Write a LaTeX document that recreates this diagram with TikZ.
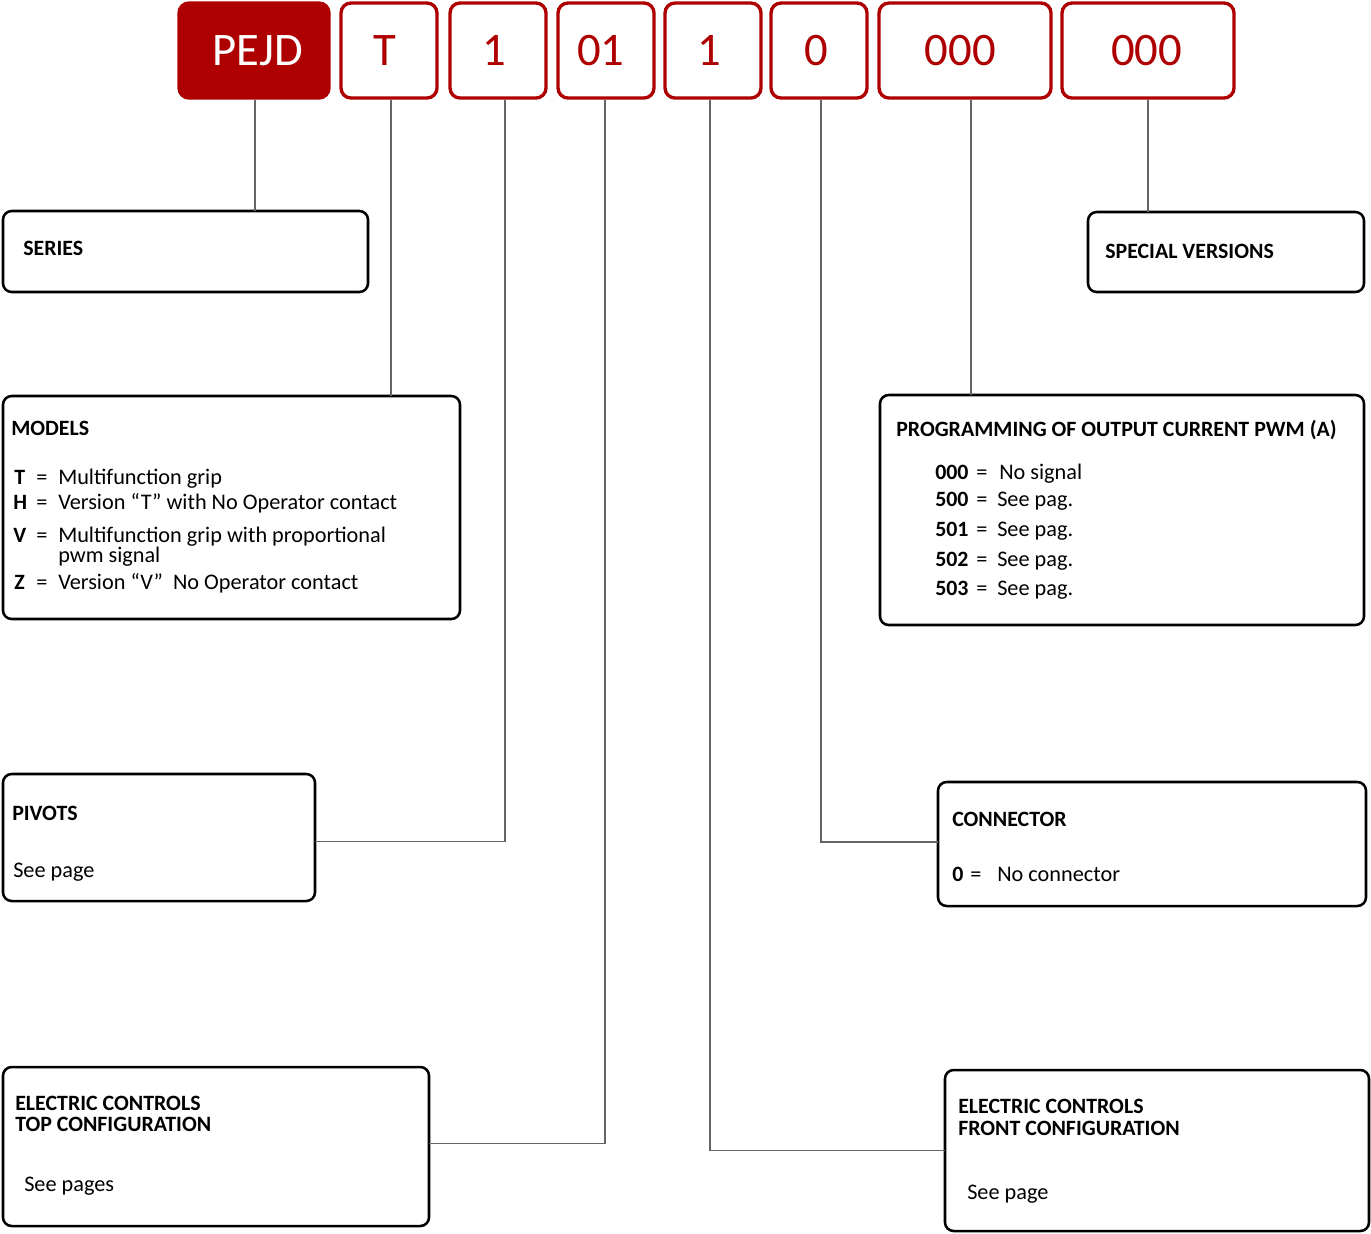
\documentclass[tikz,border=0pt]{standalone}
\usepackage{fontspec}
\setmainfont{Carlito}
\usetikzlibrary{fit}
\definecolor{pred}{RGB}{174,0,0}
\definecolor{lgray}{RGB}{100,100,100}
\begin{document}
\begin{tikzpicture}[x=0.75pt,y=-0.75pt,
  codebox/.style={draw=pred, line width=2.5pt, rounded corners=7.5pt, inner sep=0pt, outer sep=0pt},
  codefill/.style={codebox, fill=pred},
  codetxt/.style={inner sep=0pt, text=pred, font=\fontsize{35}{40}\selectfont},
  codetxtw/.style={codetxt, text=white},
  infobox/.style={draw=black, line width=1.9pt, rounded corners=6.5pt, inner sep=0pt, outer sep=0pt},
  conn/.style={draw=lgray, line width=0.9pt, shorten <=1.5pt},
  hd/.style={anchor=base west, inner sep=0pt, font=\fontsize{16.4}{19}\selectfont\bfseries},
  tx/.style={anchor=base west, inner sep=0pt, font=\fontsize{16.7}{19}\selectfont},
  bk/.style={anchor=base west, inner sep=0pt, font=\fontsize{16.4}{19}\selectfont\bfseries},
]
\useasboundingbox (0,0) rectangle (1371,1233);

% code boxes
\node[codefill, fit={(179,3) (329,98)}] (cP) {};
\node[codebox, fit={(341,3) (437,98)}] (cT) {};
\node[codebox, fit={(450,3) (546,98)}] (c1) {};
\node[codebox, fit={(558,3) (654,98)}] (c01) {};
\node[codebox, fit={(665,3) (761,98)}] (c1b) {};
\node[codebox, fit={(771,3) (867,98)}] (c0) {};
\node[codebox, fit={(879,3) (1051,98)}] (c000) {};
\node[codebox, fit={(1062,3) (1234,98)}] (c000b) {};

\node[codetxtw] (tP) at ([xshift=3pt]cP.center) {PEJD};
\node[codetxt] (tT) at ([xshift=-3pt]cT.center) {T};
\node[codetxt] (t1) at ([xshift=-3pt]c1.center) {1};
\node[codetxt] (t01) at ([xshift=-4pt]c01.center) {01};
\node[codetxt] (t1b) at ([xshift=-3pt]c1b.center) {1};
\node[codetxt] (t0) at ([xshift=-2pt]c0.center) {0};
\node[codetxt] (t000) at ([xshift=-3.5pt]c000.center) {000};
\node[codetxt] (t000b) at ([xshift=-1pt]c000b.center) {000};

% info boxes
\node[infobox, fit={(3,211) (368,292)}] (series) {};
\node[infobox, fit={(1088,212) (1364,292)}] (special) {};
\node[infobox, fit={(3,396) (460,619)}] (models) {};
\node[infobox, fit={(880,395) (1364,625)}] (prog) {};
\node[infobox, fit={(3,774) (315,901)}] (pivots) {};
\node[infobox, fit={(938,782) (1366,906)}] (connector) {};
\node[infobox, fit={(3,1067) (429,1226)}] (etop) {};
\node[infobox, fit={(945,1070) (1369,1231)}] (efront) {};

% connectors
\draw[conn] ([xshift=0.75pt]cP.south) -- ([xshift=0.75pt]cP.south |- series.north);
\draw[conn] ([xshift=1.5pt]cT.south) -- ([xshift=1.5pt]cT.south |- models.north);
\draw[conn] ([xshift=5.25pt]c1.south) |- ([yshift=-3pt]pivots.east);
\draw[conn] ([xshift=-0.75pt]c01.south) |- ([yshift=2.5pt]etop.east);
\draw[conn] ([xshift=-2.25pt]c1b.south) |- (efront.west);
\draw[conn] ([xshift=1.5pt]c0.south) |- ([yshift=1.5pt]connector.west);
\draw[conn] ([xshift=4.5pt]c000.south) -- ([xshift=4.5pt]c000.south |- prog.north);
\draw[conn] (c000b.south) -- (c000b.south |- special.north);

% texts
\node[hd] (tseries) at (23,255) {SERIES};
\node[hd] (tspecial) at (1105,258) {SPECIAL VERSIONS};

\node[hd] (tmodels) at (11,435) {MODELS};
\node[bk] (mT) at (14,484) {T};
\node[tx] (mTe) at (36,484) {=};
\node[tx] (mTt) at (58,484) {Multifunction grip};
\node[bk] (mH) at (13,509) {H};
\node[tx] (mHe) at (36,509) {=};
\node[tx] (mHt) at (58,509) {Version “T” with No Operator contact};
\node[bk] (mV) at (13,542) {V};
\node[tx] (mVe) at (36,542) {=};
\node[tx] (mVt) at (58,542) {Multifunction grip with proportional};
\node[tx] (mVt2) at (58,562) {pwm signal};
\node[bk] (mZ) at (14,589) {Z};
\node[tx] (mZe) at (36,589) {=};
\node[tx] (mZt) at (58,589) {Version “V”\ \ No Operator contact};

\node[hd] (tprog) at (896,436) {PROGRAMMING OF OUTPUT CURRENT PWM (A)};
\node[bk] (p0) at (935,479) {000};
\node[tx] (p0e) at (976,479) {=};
\node[tx] (p0t) at (999,479) {No signal};
\node[bk] (p1) at (935,506) {500};
\node[tx] (p1e) at (976,506) {=};
\node[tx] (p1t) at (997,506) {See pag.};
\node[bk] (p2) at (935,536) {501};
\node[tx] (p2e) at (976,536) {=};
\node[tx] (p2t) at (997,536) {See pag.};
\node[bk] (p3) at (935,566) {502};
\node[tx] (p3e) at (976,566) {=};
\node[tx] (p3t) at (997,566) {See pag.};
\node[bk] (p4) at (935,595) {503};
\node[tx] (p4e) at (976,595) {=};
\node[tx] (p4t) at (997,595) {See pag.};

\node[hd] (tpivots) at (12,820) {PIVOTS};
\node[tx] (tpivots2) at (13,877) {See page};

\node[hd] (tconn) at (952,826) {CONNECTOR};
\node[bk] (cn0) at (952,881) {0};
\node[tx] (cn0e) at (970,881) {=};
\node[tx] (cn0t) at (997,881) {No connector};

\node[hd] (tetop) at (15,1110) {ELECTRIC CONTROLS};
\node[hd] (tetop2) at (15,1131) {TOP CONFIGURATION};
\node[tx] (tetop3) at (24,1191) {See pages};

\node[hd] (tefr) at (958,1113) {ELECTRIC CONTROLS};
\node[hd] (tefr2) at (958,1135) {FRONT CONFIGURATION};
\node[tx] (tefr3) at (967,1199) {See page};
\end{tikzpicture}
\end{document}
